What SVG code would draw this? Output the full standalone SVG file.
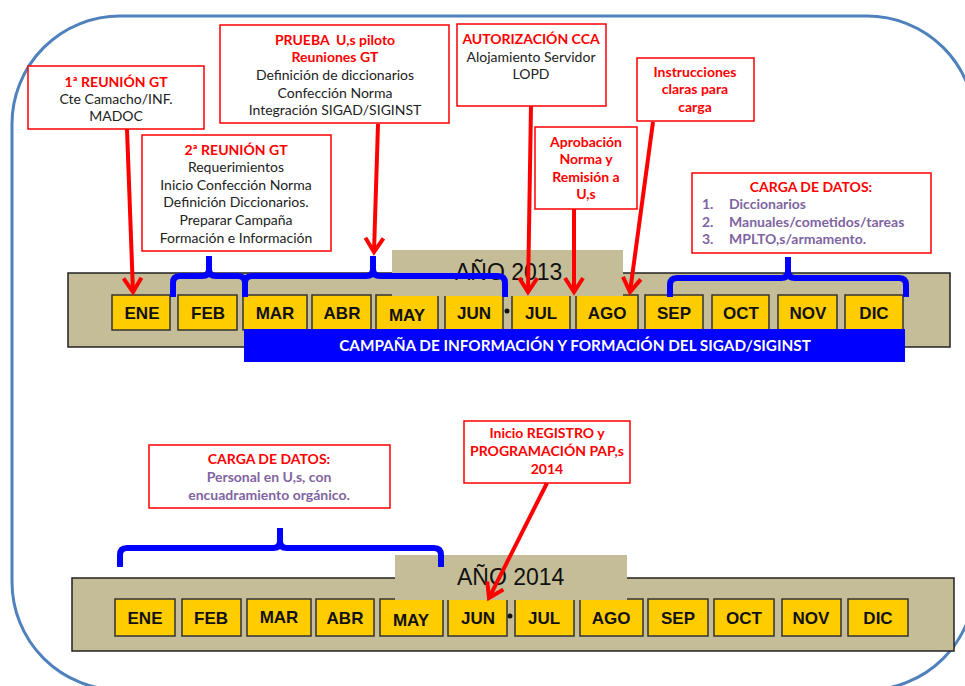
<svg xmlns="http://www.w3.org/2000/svg" width="965" height="686" viewBox="0 0 965 686">
<style>
.note{fill:#fff;stroke:#ff0000;stroke-width:1.5}
.t{font-family:Lato,"Open Sans","Liberation Sans",sans-serif;font-size:14px;text-anchor:middle;fill:#222}
.r{fill:#ff0000;font-weight:bold}
.p{fill:#8064a2;font-weight:bold}
.band{fill:#c4bd97;stroke:#222;stroke-width:1.5}
.tab{fill:#c4bd97}
.year{font-family:"Liberation Sans",Arial,sans-serif;font-size:23px;fill:#111}
.m{fill:#ffcc00;stroke:#333;stroke-width:1.5}
.mt{font-family:"Liberation Sans",Arial,sans-serif;font-size:17px;font-weight:bold;text-anchor:middle;fill:#111}
.brace{fill:none;stroke:#0000ff;stroke-width:6}
.arr{stroke:#ff0000;stroke-width:4;fill:none;marker-end:url(#ah)}
</style>
<defs>
<marker id="ah" markerUnits="userSpaceOnUse" viewBox="-18 -12 22 24" markerWidth="22" markerHeight="24" refX="0" refY="0" orient="auto">
<path d="M-14,-9 L0,0 L-14,9" fill="none" stroke="#ff0000" stroke-width="4"/>
</marker>
</defs>
<rect x="0" y="0" width="965" height="686" fill="#fff"/>
<rect id="frame" x="12" y="16" width="963" height="674" rx="108" ry="108" fill="none" stroke="#4f81bd" stroke-width="3"/>

<g id="band2013">
<rect class="band" x="68" y="273" width="882" height="74"/>
<g class="m">
<rect x="112" y="295" width="58" height="35"/><rect x="178" y="295" width="59" height="35"/><rect x="243" y="295" width="64" height="35"/><rect x="312" y="295" width="59" height="35"/><rect x="376" y="295" width="62" height="35"/><rect x="445" y="295" width="58" height="35"/><rect x="512" y="295" width="58" height="35"/><rect x="576" y="295" width="62" height="35"/><rect x="645" y="295" width="58" height="35"/><rect x="712" y="295" width="57" height="35"/><rect x="778" y="295" width="59" height="35"/><rect x="845" y="295" width="58" height="35"/>
</g>
<rect class="tab" x="392" y="250" width="231" height="46"/>
<text class="year" x="455" y="280">AÑO 2013</text>
<g class="mt">
<text x="142" y="319">ENE</text><text x="208" y="319">FEB</text><text x="275" y="319">MAR</text><text x="342" y="319">ABR</text><text x="407" y="321">MAY</text><text x="474" y="319">JUN</text><text x="541" y="319">JUL</text><text x="607" y="319">AGO</text><text x="674" y="319">SEP</text><text x="741" y="319">OCT</text><text x="808" y="319">NOV</text><text x="874" y="319">DIC</text>
</g>
<circle cx="507" cy="311" r="2.5" fill="#111"/>
<rect x="244" y="329" width="661" height="33" fill="#0000ff"/>
<text x="575" y="351" font-family="Lato,'Open Sans','Liberation Sans',sans-serif" font-size="15.3" font-weight="bold" fill="#fff" text-anchor="middle">CAMPAÑA DE INFORMACIÓN Y FORMACIÓN DEL SIGAD/SIGINST</text>
</g>

<g id="band2014">
<rect class="band" x="72" y="578" width="882" height="73"/>
<g class="m">
<rect x="115" y="599" width="60" height="37"/><rect x="182" y="599" width="59" height="37"/><rect x="247" y="599" width="64" height="37"/><rect x="316" y="599" width="58" height="37"/><rect x="380" y="599" width="63" height="37"/><rect x="448" y="599" width="59" height="37"/><rect x="515" y="599" width="59" height="37"/><rect x="580" y="599" width="63" height="37"/><rect x="648" y="599" width="60" height="37"/><rect x="714" y="599" width="60" height="37"/><rect x="782" y="599" width="59" height="37"/><rect x="848" y="599" width="60" height="37"/>
</g>
<rect class="tab" x="395" y="555" width="232" height="45"/>
<text class="year" x="457" y="585">AÑO 2014</text>
<g class="mt">
<text x="145" y="624">ENE</text><text x="211" y="624">FEB</text><text x="279" y="623">MAR</text><text x="345" y="624">ABR</text><text x="411" y="626">MAY</text><text x="478" y="624">JUN</text><text x="544" y="624">JUL</text><text x="611" y="624">AGO</text><text x="678" y="624">SEP</text><text x="744" y="624">OCT</text><text x="811" y="624">NOV</text><text x="878" y="624">DIC</text>
</g>
<circle cx="510" cy="616" r="2.5" fill="#111"/>
</g>

<g id="braces">
<path class="brace" d="M173,297 V283 Q173,276 180,276 H202 Q209,276 209,269 V256 M209,269 Q209,276 216,276 H238 Q245,276 245,283 V297"/>
<path class="brace" d="M245,297 V283 Q245,276 252,276 H366 Q373,276 373,269 V256 M373,269 Q373,276 380,276 H498 Q505,276 505,283 V297"/>
<path class="brace" d="M670,297 V285 Q670,278 677,278 H781 Q788,278 788,271 V257 M788,271 Q788,278 795,278 H899 Q906,278 906,285 V297"/>
<path class="brace" d="M120,567 V555 Q120,548 127,548 H273 Q280,548 280,541 V528 M280,541 Q280,548 287,548 H434 Q441,548 441,555 V567"/>
</g>

<g id="connectors">
<line class="arr" x1="127" y1="129" x2="133" y2="292"/>
<line class="arr" x1="378" y1="124" x2="374" y2="252"/>
<line class="arr" x1="531" y1="106" x2="528" y2="292"/>
<line class="arr" x1="574" y1="209" x2="574" y2="292"/>
<line class="arr" x1="653" y1="122" x2="630" y2="292"/>
<line class="arr" x1="547" y1="483" x2="489" y2="598"/>
</g>

<g id="n1">
<rect class="note" x="28" y="66" width="176" height="63"/>
<text class="t r" x="116" y="87">1ª REUNIÓN GT</text>
<text class="t" x="116" y="104">Cte Camacho/INF.</text>
<text class="t" x="116" y="121">MADOC</text>
</g>
<g id="n2">
<rect class="note" x="220" y="25" width="229" height="98"/>
<text class="t r" x="335" y="45" xml:space="preserve">PRUEBA  U,s piloto</text>
<text class="t r" x="335" y="62">Reuniones GT</text>
<text class="t" x="335" y="80">Definición de diccionarios</text>
<text class="t" x="335" y="98">Confección Norma</text>
<text class="t" x="335" y="115">Integración SIGAD/SIGINST</text>
</g>
<g id="n3">
<rect class="note" x="142" y="135" width="189" height="116"/>
<text class="t r" x="236" y="155">2ª REUNIÓN GT</text>
<text class="t" x="236" y="172">Requerimientos</text>
<text class="t" x="236" y="190">Inicio Confección Norma</text>
<text class="t" x="236" y="207">Definición Diccionarios.</text>
<text class="t" x="236" y="225">Preparar Campaña</text>
<text class="t" x="236" y="243">Formación e Información</text>
</g>
<g id="n4">
<rect class="note" x="457" y="24" width="149" height="82"/>
<text class="t r" x="531" y="44">AUTORIZACIÓN CCA</text>
<text class="t" x="531" y="62">Alojamiento Servidor</text>
<text class="t" x="531" y="79">LOPD</text>
</g>
<g id="n5">
<rect class="note" x="637" y="58" width="117" height="63"/>
<text class="t r" x="695" y="77">Instrucciones</text>
<text class="t r" x="695" y="94">claras para</text>
<text class="t r" x="695" y="112">carga</text>
</g>
<g id="n6">
<rect class="note" x="535" y="127" width="102" height="82"/>
<text class="t r" x="586" y="147">Aprobación</text>
<text class="t r" x="586" y="164">Norma y</text>
<text class="t r" x="586" y="182">Remisión a</text>
<text class="t r" x="586" y="199">U,s</text>
</g>
<g id="n7">
<rect class="note" x="692" y="173" width="239" height="80"/>
<text class="t r" x="811" y="192">CARGA DE DATOS:</text>
<text class="t p" x="702" y="209" style="text-anchor:start">1.</text>
<text class="t p" x="702" y="227" style="text-anchor:start">2.</text>
<text class="t p" x="702" y="244" style="text-anchor:start">3.</text>
<text class="t p" x="729" y="209" style="text-anchor:start">Diccionarios</text>
<text class="t p" x="729" y="227" style="text-anchor:start">Manuales/cometidos/tareas</text>
<text class="t p" x="729" y="244" style="text-anchor:start">MPLTO,s/armamento.</text>
</g>
<g id="n8">
<rect class="note" x="149" y="445" width="241" height="63"/>
<text class="t r" x="269" y="464">CARGA DE DATOS:</text>
<text class="t p" x="269" y="482">Personal en U,s, con</text>
<text class="t p" x="269" y="500">encuadramiento orgánico.</text>
</g>
<g id="n9">
<rect class="note" x="464" y="421" width="166" height="62"/>
<text class="t r" x="547" y="438">Inicio REGISTRO y</text>
<text class="t r" x="547" y="456">PROGRAMACIÓN PAP,s</text>
<text class="t r" x="547" y="474">2014</text>
</g>
</svg>
